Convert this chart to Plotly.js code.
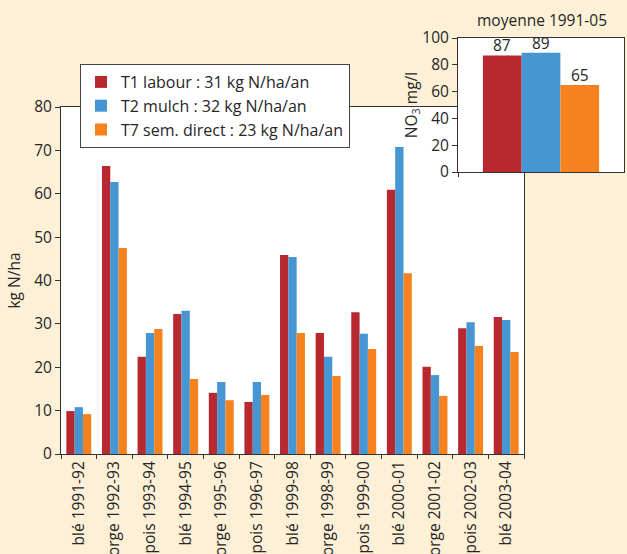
<!DOCTYPE html>
<html>
<head>
<meta charset="utf-8">
<script src="https://cdn.plot.ly/plotly-3.0.1.min.js"></script>
<style>html,body{margin:0;padding:0;background:#FDF0D6;}</style>
</head>
<body>
<div id="chart" style="width:627px;height:554px;"></div>
<script>
const categories = ["blé 1991-92","orge 1992-93","pois 1993-94","blé 1994-95","orge 1995-96","pois 1996-97","blé 1999-98","orge 1998-99","pois 1999-00","blé 2000-01","orge 2001-02","pois 2002-03","blé 2003-04"];
const t1Values = [9.9, 66.4, 22.4, 32.3, 14.1, 12.0, 45.9, 27.9, 32.7, 60.9, 20.1, 29.0, 31.6];
const t2Values = [10.8, 62.7, 27.9, 33.0, 16.6, 16.6, 45.4, 22.4, 27.7, 70.8, 18.2, 30.4, 30.9];
const t7Values = [9.2, 47.5, 28.8, 17.3, 12.4, 13.6, 27.9, 18.0, 24.2, 41.7, 13.4, 24.9, 23.5];
const seriesNames = ["T1 labour : 31 kg N/ha/an", "T2 mulch : 32 kg N/ha/an", "T7 sem. direct : 23 kg N/ha/an"];
const insetCategory = ["moyenne"];
const insetValues = [87, 89, 65];
const insetTitle = "moyenne 1991-05";
const colors = ["#B8282F", "#4596D3", "#F5821F"];

const font = "Open Sans, DejaVu Sans, sans-serif";
const ink = "#262626";
const fs = 15.5;
const bargap = 0.3;
const mainSeries = [t1Values, t2Values, t7Values];

const traces = [];
mainSeries.forEach((vals, i) => {
  traces.push({
    type: "bar", x: categories, y: vals, name: seriesNames[i],
    marker: {color: colors[i]}, xaxis: "x", yaxis: "y", hoverinfo: "y"
  });
});
insetValues.forEach((v, i) => {
  traces.push({
    type: "bar", x: insetCategory, y: [v], name: seriesNames[i], showlegend: false,
    marker: {color: colors[i]}, xaxis: "x2", yaxis: "y2"
  });
});

// value labels above the inset bars (placed on the x2/y2 data scales)
const n = insetValues.length;
const slot = (1 - bargap) / n;
const valueLabels = insetValues.map((v, i) => ({
  text: String(v), xref: "x2", yref: "y2",
  x: (i - (n - 1) / 2) * slot, y: v, yshift: -2,
  xanchor: "center", yanchor: "bottom", showarrow: false, borderpad: 0,
  font: {family: font, size: fs, color: ink}
}));

const layout = {
  width: 627, height: 554,
  margin: {l: 0, r: 0, t: 0, b: 0},
  paper_bgcolor: "#FDF0D6",
  plot_bgcolor: "#FFFFFF",
  font: {family: font, size: fs, color: ink},
  barmode: "group", bargap: bargap, bargroupgap: 0,
  showlegend: true,
  legend: {
    x: 80/627, y: 1 - 64/554, xanchor: "left", yanchor: "top",
    bgcolor: "#FFFFFF", bordercolor: "#444", borderwidth: 1,
    font: {family: font, size: 16, color: ink}, traceorder: "normal",
    tracegroupgap: 0, itemwidth: 30
  },
  xaxis: {
    domain: [61/627, 524/627], anchor: "y",
    type: "category", tickangle: -90, tickson: "boundaries",
    ticks: "outside", ticklen: 4, tickcolor: "#333",
    showline: true, linecolor: "#333", linewidth: 1, mirror: true,
    automargin: false, showgrid: false, fixedrange: true,
    tickfont: {family: font, size: fs, color: ink}
  },
  yaxis: {
    domain: [100/554, 447/554], anchor: "x",
    range: [0, 80], dtick: 10, ticks: "outside", ticklen: 5, tickcolor: "#333",
    showline: true, linecolor: "#333", linewidth: 1, mirror: true,
    showgrid: false, zeroline: false, automargin: false,
    title: {text: "kg N/ha", font: {family: font, size: fs, color: ink}},
    tickfont: {family: font, size: fs, color: ink}
  },
  xaxis2: {
    domain: [458/627, 624/627], anchor: "y2",
    type: "category", tickson: "boundaries", showticklabels: false,
    ticks: "outside", ticklen: 4, tickcolor: "#333",
    showline: true, linecolor: "#333", linewidth: 1, mirror: true,
    showgrid: false, automargin: false
  },
  yaxis2: {
    domain: [(554-172)/554, (554-38)/554], anchor: "x2",
    range: [0, 100], dtick: 20, ticks: "outside", ticklen: 5, tickcolor: "#333",
    showline: true, linecolor: "#333", linewidth: 1, mirror: true,
    showgrid: false, zeroline: false, automargin: false,
    title: {text: "NO<sub>3</sub> mg/l", font: {family: font, size: fs, color: ink}},
    tickfont: {family: font, size: fs, color: ink}
  },
  annotations: [{
    text: insetTitle, xref: "paper", yref: "paper",
    x: 542/627, y: 1 - 20/554, xanchor: "center", yanchor: "middle",
    showarrow: false, font: {family: font, size: fs, color: ink}
  }].concat(valueLabels)
};

Plotly.newPlot("chart", traces, layout, {displayModeBar: false, staticPlot: true});
</script>
</body>
</html>
